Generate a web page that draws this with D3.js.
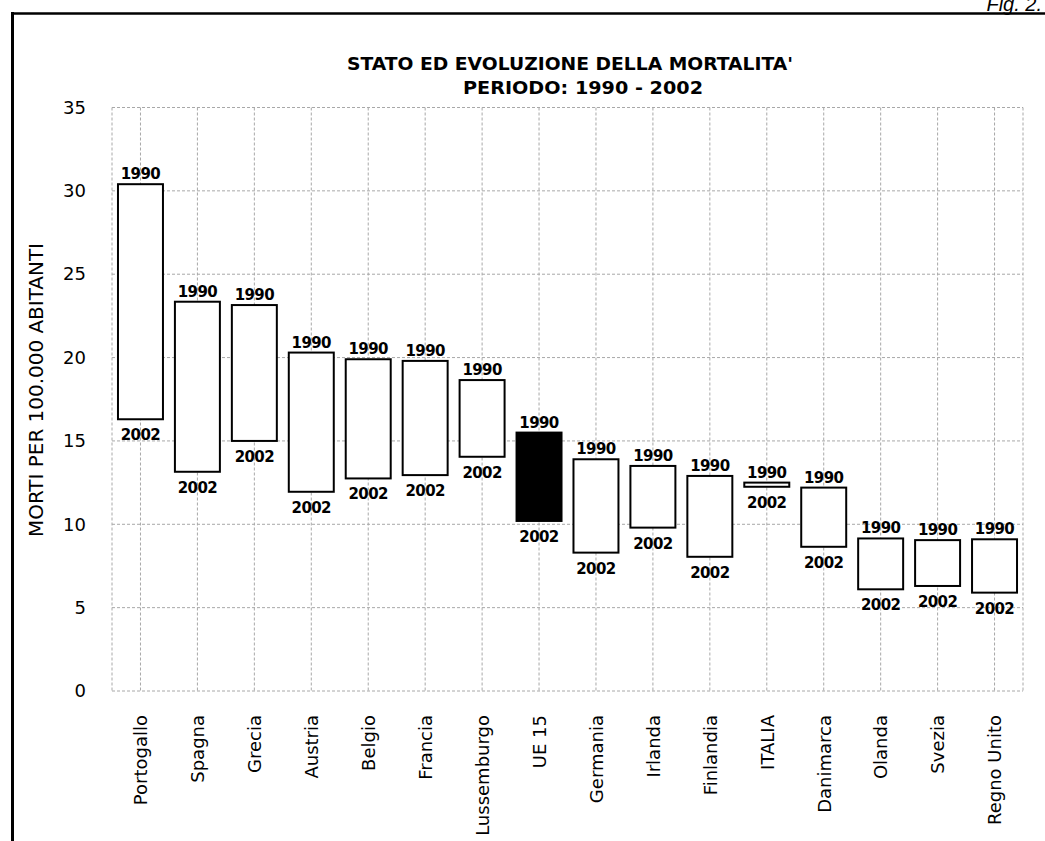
<!DOCTYPE html>
<html><head><meta charset="utf-8">
<script src="https://cdn.jsdelivr.net/npm/d3@7"></script>
<style>
body{margin:0;background:#fff;}
svg{display:block;}
</style></head>
<body>
<svg id="chart" width="1045" height="841"></svg>
<script>
const categories = ["Portogallo","Spagna","Grecia","Austria","Belgio","Francia","Lussemburgo","UE 15","Germania","Irlanda","Finlandia","ITALIA","Danimarca","Olanda","Svezia","Regno Unito"];
const values1990 = [30.4,23.35,23.15,20.3,19.9,19.8,18.65,15.5,13.9,13.5,12.9,12.5,12.2,9.15,9.05,9.1];
const values2002 = [16.3,13.15,15.0,11.95,12.75,12.95,14.05,10.2,8.3,9.8,8.05,12.25,8.65,6.1,6.3,5.9];
const highlight = ["UE 15"];
const yTicks = [0,5,10,15,20,25,30,35];
const titleLines = ["STATO ED EVOLUZIONE DELLA MORTALITA'", "PERIODO: 1990 - 2002"];
const yTitle = "MORTI PER 100.000 ABITANTI";
const labelTop = "1990", labelBottom = "2002";

const svg = d3.select("#chart");
const F = "'DejaVu Sans', sans-serif";
const plot = {left:112, right:1023, top:107.5, bottom:691};

const x = d3.scaleBand().domain(categories).range([plot.left, plot.right]).paddingInner(0.21).paddingOuter(0.105);
const xc = d3.scalePoint().domain(categories).range([plot.left, plot.right]).padding(0.5);
const y = d3.scaleLinear().domain([0,35]).range([plot.bottom, plot.top]);

// outer frame
svg.append("line").attr("x1",12.5).attr("x2",12.5).attr("y1",12).attr("y2",841).attr("stroke","#000").attr("stroke-width",3);
svg.append("line").attr("x1",11).attr("x2",1045).attr("y1",13.5).attr("y2",13.5).attr("stroke","#000").attr("stroke-width",2.5);
svg.append("text").attr("x",1042).attr("y",11).attr("text-anchor","end").attr("font-family","'Liberation Sans', sans-serif")
  .attr("font-style","italic").attr("font-size",20).text("Fig. 2.");

// gridlines
const grid = svg.append("g").attr("stroke","#a8a8a8").attr("stroke-width",1).attr("stroke-dasharray","3,2").attr("fill","none");
grid.selectAll(".hg").data(yTicks).join("line")
  .attr("x1",plot.left).attr("x2",plot.right).attr("y1",d=>y(d)).attr("y2",d=>y(d));
grid.selectAll(".vg").data(categories).join("line")
  .attr("x1",d=>xc(d)).attr("x2",d=>xc(d)).attr("y1",plot.top).attr("y2",plot.bottom);
grid.append("line").attr("x1",plot.left).attr("x2",plot.left).attr("y1",plot.top).attr("y2",plot.bottom);
grid.append("line").attr("x1",plot.right).attr("x2",plot.right).attr("y1",plot.top).attr("y2",plot.bottom);

// y axis
const yAxis = d3.axisLeft(y).tickValues(yTicks).tickSize(0).tickPadding(0);
const ya = svg.append("g").attr("transform",`translate(86,0)`).call(yAxis);
ya.select(".domain").remove();
ya.selectAll("text").attr("font-family",F).attr("font-size",18).attr("fill","#000");

// x axis
const xAxis = d3.axisBottom(xc).tickSize(0).tickPadding(0);
const xa = svg.append("g").attr("transform",`translate(0,${plot.bottom})`).call(xAxis);
xa.select(".domain").remove();
xa.selectAll("text").attr("font-family",F).attr("font-size",18).attr("fill","#000")
  .attr("transform","rotate(-90)").attr("text-anchor","end").attr("dy","0.35em").attr("x",-24).attr("y",0);

// bars
const data = categories.map((c,i)=>({c, a:values1990[i], b:values2002[i]}));
svg.selectAll(".bar").data(data).join("rect")
  .attr("x",d=>x(d.c)).attr("width",x.bandwidth())
  .attr("y",d=>y(d.a)).attr("height",d=>y(d.b)-y(d.a))
  .attr("fill",d=>highlight.includes(d.c)?"#000":"#fff").attr("stroke","#000").attr("stroke-width",2);

svg.selectAll(".lt").data(data).join("text")
  .attr("x",d=>xc(d.c)).attr("y",d=>y(d.a)-5).attr("text-anchor","middle")
  .attr("font-family",F).attr("font-weight","bold").attr("font-size",15).attr("letter-spacing","-0.6").text(labelTop);
svg.selectAll(".lb").data(data).join("text")
  .attr("x",d=>xc(d.c)).attr("y",d=>y(d.b)+21).attr("text-anchor","middle")
  .attr("font-family",F).attr("font-weight","bold").attr("font-size",15).attr("letter-spacing","-0.6").text(labelBottom);

// titles
svg.append("text").attr("x",570).attr("y",70).attr("text-anchor","middle").attr("font-family",F)
  .attr("font-weight","bold").attr("font-size",17).attr("textLength",446).attr("lengthAdjust","spacingAndGlyphs").text(titleLines[0]);
svg.append("text").attr("x",583).attr("y",94).attr("text-anchor","middle").attr("font-family",F)
  .attr("font-weight","bold").attr("font-size",17).attr("textLength",240).attr("lengthAdjust","spacingAndGlyphs").text(titleLines[1]);

svg.append("text").attr("transform","translate(43,390) rotate(-90)").attr("text-anchor","middle")
  .attr("font-family",F).attr("font-size",19).attr("textLength",294).attr("lengthAdjust","spacingAndGlyphs").text(yTitle);
</script>
</body></html>
